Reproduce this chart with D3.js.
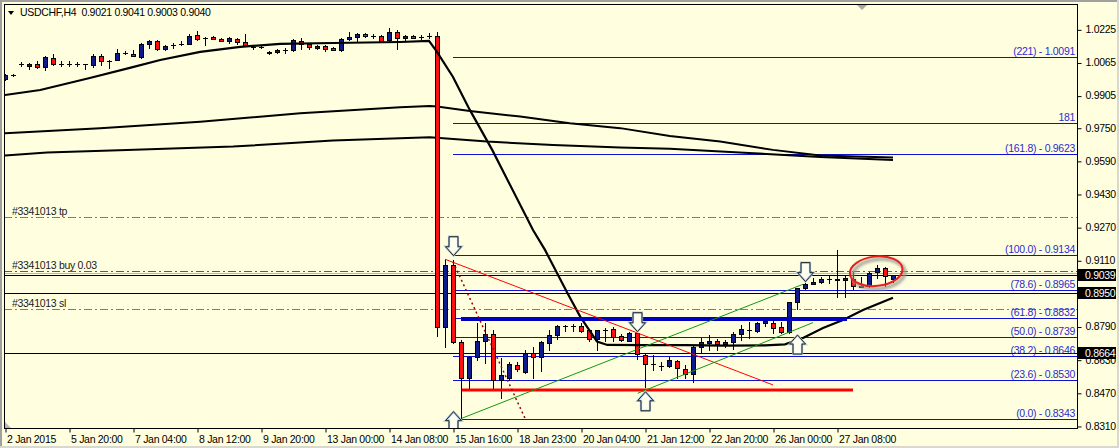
<!DOCTYPE html>
<html><head><meta charset="utf-8">
<script src="https://cdn.jsdelivr.net/npm/d3@7"></script>
<style>
html,body{margin:0;padding:0;background:#ffffe0;}
svg{display:block;font-family:"Liberation Sans",Arial,sans-serif;}
</style></head><body>
<svg id="c" width="1119" height="448"></svg>
<script>
// ---------- DATA ----------
const symbol = "USDCHF,H4";
const openP = [0.9983,1.0005,1.0057,1.0049,1.0059,1.0044,1.0088,1.0059,1.0059,1.0057,1.0057,1.0055,1.0098,1.0073,1.0078,1.0112,1.0107,1.0093,1.0156,1.0170,1.0131,1.0151,1.0156,1.0156,1.0199,1.0185,1.0190,1.0180,1.0170,1.0180,1.0165,1.0141,1.0141,1.0112,1.0117,1.0127,1.0127,1.0170,1.0156,1.0136,1.0146,1.0136,1.0126,1.0180,1.0190,1.0204,1.0194,1.0194,1.0175,1.0214,1.0185,1.0194,1.0190,1.0194,
  1.0194,0.8789,0.9087,0.8717,0.8540,0.8642,0.8720,0.8753,0.8532,0.8540,0.8603,0.8572,0.8664,0.8642,0.8712,0.8749,0.8793,0.8793,0.8793,0.8771,0.8729,0.8771,0.8776,0.8745,0.8722,0.8760,0.8652,0.8608,0.8601,0.8601,0.8624,0.8585,0.8560,0.8690,0.8709,0.8720,0.8704,0.8717,0.8753,0.8773,0.8770,0.8806,0.8806,0.8789,0.8765,0.8907,0.8975,0.8997,0.9007,0.9018,0.9021,0.9013,0.9021,0.8983,0.8986,0.9055,0.9071,0.9021];
const highP = [1.0010,1.0010,1.0065,1.0062,1.0073,1.0095,1.0104,1.0070,1.0070,1.0066,1.0060,1.0106,1.0106,1.0075,1.0131,1.0119,1.0127,1.0158,1.0172,1.0172,1.0148,1.0161,1.0170,1.0204,1.0215,1.0190,1.0192,1.0183,1.0190,1.0182,1.0204,1.0151,1.0146,1.0119,1.0131,1.0136,1.0180,1.0185,1.0160,1.0150,1.0150,1.0141,1.0182,1.0214,1.0206,1.0209,1.0204,1.0199,1.0233,1.0224,1.0196,1.0196,1.0199,1.0209,
  1.0211,0.9112,0.9112,0.8725,0.8650,0.8806,0.8806,0.8773,0.8637,0.8620,0.8620,0.8677,0.8690,0.8720,0.8773,0.8798,0.8798,0.8803,0.8809,0.8775,0.8775,0.8781,0.8786,0.8754,0.8765,0.8773,0.8657,0.8653,0.8620,0.8645,0.8629,0.8604,0.8695,0.8733,0.8749,0.8730,0.8725,0.8764,0.8798,0.8814,0.8814,0.8830,0.8817,0.8814,0.8910,0.8976,0.9002,0.9023,0.9028,0.9039,0.9160,0.9034,0.9055,0.9031,0.9055,0.9087,0.9079,0.9041];
const lowP = [0.9980,1.0000,1.0049,1.0032,1.0039,1.0029,1.0054,1.0050,1.0049,1.0049,1.0034,1.0045,1.0052,1.0039,1.0075,1.0105,1.0095,1.0088,1.0136,1.0123,1.0126,1.0136,1.0151,1.0154,1.0175,1.0151,1.0178,1.0168,1.0160,1.0156,1.0144,1.0131,1.0136,1.0107,1.0112,1.0112,1.0122,1.0131,1.0131,1.0131,1.0122,1.0124,1.0122,1.0175,1.0170,1.0190,1.0185,1.0165,1.0165,1.0131,1.0175,1.0183,1.0180,1.0185,
  0.8745,0.8693,0.8710,0.8343,0.8492,0.8629,0.8613,0.8492,0.8447,0.8530,0.8577,0.8567,0.8540,0.8577,0.8677,0.8729,0.8769,0.8769,0.8765,0.8722,0.8677,0.8722,0.8722,0.8722,0.8720,0.8632,0.8500,0.8580,0.8580,0.8596,0.8543,0.8540,0.8521,0.8669,0.8677,0.8677,0.8693,0.8682,0.8725,0.8733,0.8765,0.8793,0.8757,0.8760,0.8757,0.8875,0.8970,0.8994,0.9002,0.9002,0.8931,0.8934,0.8970,0.8983,0.8983,0.9023,0.8986,0.9003];
const closeP = [1.0005,1.0005,1.0057,1.0059,1.0044,1.0093,1.0059,1.0059,1.0059,1.0057,1.0057,1.0098,1.0073,1.0073,1.0112,1.0112,1.0097,1.0156,1.0170,1.0131,1.0146,1.0151,1.0156,1.0194,1.0180,1.0185,1.0180,1.0170,1.0185,1.0165,1.0146,1.0141,1.0141,1.0117,1.0127,1.0127,1.0175,1.0156,1.0141,1.0146,1.0131,1.0126,1.0180,1.0190,1.0204,1.0194,1.0194,1.0170,1.0214,1.0185,1.0194,1.0185,1.0190,1.0194,
  0.8789,0.9087,0.8717,0.8540,0.8642,0.8720,0.8753,0.8532,0.8556,0.8608,0.8584,0.8664,0.8642,0.8715,0.8749,0.8793,0.8793,0.8793,0.8769,0.8729,0.8771,0.8771,0.8741,0.8726,0.8760,0.8657,0.8608,0.8608,0.8601,0.8629,0.8589,0.8560,0.8690,0.8717,0.8720,0.8706,0.8714,0.8753,0.8778,0.8773,0.8806,0.8817,0.8785,0.8765,0.8910,0.8975,0.8996,0.9007,0.9018,0.9018,0.9013,0.9023,0.8986,0.8986,0.9050,0.9071,0.9034,0.9040];

const xTickIdx = [0,8,16,24,32,40,48,56,64,72,80,88,96,104];
const xTickLabels = ["2 Jan 2015","5 Jan 20:00","7 Jan 04:00","8 Jan 12:00","9 Jan 20:00","13 Jan 00:00","14 Jan 08:00","15 Jan 16:00","18 Jan 23:00","20 Jan 04:00","21 Jan 12:00","22 Jan 20:00","26 Jan 00:00","27 Jan 08:00"];
const yTickLabels = ["1.0225","1.0065","0.9905","0.9750","0.9590","0.9430","0.9270","0.9110","0.8950","0.8790","0.8630","0.8470","0.8310"];

// moving averages: bar index / value
const maFastIdx = [0,4.4,10.6,15.6,19.4,24.4,29.4,34.4,41,49.4,53,54,56,58.1,60.9,66,67.5,70.3,71.9,74,75.3,80,85,90,95,97.5,99.75,102.25,104.75,107.25,111];
const maFastVal = [0.9908,0.9932,0.9990,1.0039,1.0077,1.0116,1.0140,1.0155,1.0159,1.0164,1.0169,1.0116,0.9995,0.9836,0.9643,0.9256,0.9160,0.8952,0.8838,0.8717,0.8701,0.8700,0.8700,0.8698,0.8699,0.8704,0.8735,0.8783,0.8822,0.8870,0.8929];
const maMidIdx = [0,11.9,24.4,36.9,49.4,53.1,54,58.1,64.4,70.6,76.9,83.1,89.4,96,101.9,111];
const maMidVal = [0.9723,0.9748,0.9779,0.9820,0.9849,0.9855,0.9852,0.9831,0.9804,0.9772,0.9748,0.9710,0.9683,0.9643,0.9616,0.9606];
const maSlowIdx = [0,5.25,15.25,28.5,41,53.1,60.25,68.5,76.9,83.1,93,101.9,111];
const maSlowVal = [0.9616,0.9630,0.9643,0.9659,0.9688,0.9704,0.9683,0.9667,0.9654,0.9648,0.9628,0.9609,0.9594];

// Fibonacci
const fibStartIdx = 56;
const fibPrices = [0.8343,0.8530,0.8646,0.8739,0.8832,0.8965,0.9134,0.9623,0.9775,1.0091];
const fibLabels = ["(0.0) - 0.8343","(23.6) - 0.8530","(38.2) - 0.8646","(50.0) - 0.8739","(61.8) - 0.8832","(78.6) - 0.8965","(100.0) - 0.9134","(161.8) - 0.9623","181","(221) - 1.0091"];

// horizontal lines with price labels
const hLinePrices = [0.9039,0.8950,0.8664];
const bidLinePrice = 0.9047;

// order lines
const orderNames = ["#3341013 tp","#3341013 buy 0.03","#3341013 sl"];
const orderPrices = [0.9318,0.9058,0.8873];
const orderColors = ["#f0521c","#1a8a1a","#f0521c"];

// trend objects: [idx0, val0, idx1, val1]
const redTrend = [55,0.9115,96,0.8508];
const redDotted = [56,0.9103,65,0.8347];
const greenUpper = [57.1,0.8347,99.75,0.8994];
const greenLower = [79.1,0.8468,101,0.8809];
const thickBlue = [57,0.8826,105.25,0.8826];
const thickRed = [57.1,0.8484,106,0.8484];

// arrows: index, tip price
const downArrowIdx = [56,79,100];
const downArrowVal = [0.9132,0.8765,0.9007];
const upArrowIdx = [56,80,99];
const upArrowVal = [0.8379,0.8475,0.8749];

// highlight ellipse: center idx, center val, radius in bars, radius in price
const ellipseSpec = [108.9,0.9057,3.3,0.0071];

// ---------- DRAW ----------
const svg = d3.select("#c");
const W = 1119, H = 448;
const P = {l:4, t:4, r:1077, b:428};
const x = d3.scaleLinear().domain([0,134]).range([5,1077]);
const y = d3.scaleLinear().domain([0.83001,1.03474]).range([428,4]);
const cy = v => Math.round(y(v)) + 0.5;

svg.append("rect").attr("width",W).attr("height",H).attr("fill","#ffffe0");
svg.append("rect").attr("x",0).attr("y",0).attr("width",W).attr("height",2).attr("fill","#a0a0a0");
svg.append("rect").attr("x",0).attr("y",0).attr("width",2).attr("height",H).attr("fill","#a0a0a0");
svg.append("rect").attr("x",W-2).attr("y",0).attr("width",2).attr("height",H).attr("fill","#d8d8d0");
svg.append("rect").attr("x",0).attr("y",H-2).attr("width",W).attr("height",2).attr("fill","#d8d8d0");

const defs = svg.append("defs");
defs.append("clipPath").attr("id","clip").append("rect")
  .attr("x",P.l+1).attr("y",P.t+1).attr("width",P.r-P.l-1).attr("height",P.b-P.t-1);
const blur = defs.append("filter").attr("id","blur");
blur.append("feGaussianBlur").attr("stdDeviation",1.6);

const g = svg.append("g").attr("clip-path","url(#clip)");

// fib lines
fibPrices.forEach(p => {
  g.append("line").attr("x1",x(fibStartIdx)).attr("x2",P.r).attr("y1",cy(p)).attr("y2",cy(p))
    .attr("stroke","#1010d0").attr("stroke-width",1);
});
// horizontal black lines
g.append("line").attr("x1",P.l).attr("x2",P.r).attr("y1",cy(bidLinePrice)).attr("y2",cy(bidLinePrice))
  .attr("stroke","#b8b8b8").attr("stroke-width",1);
hLinePrices.forEach(p => {
  g.append("line").attr("x1",P.l).attr("x2",P.r).attr("y1",cy(p)).attr("y2",cy(p))
    .attr("stroke","#000").attr("stroke-width",1);
});
// order lines
orderPrices.forEach((p,i) => {
  g.append("line").attr("x1",P.l).attr("x2",P.r).attr("y1",cy(p)).attr("y2",cy(p))
    .attr("stroke",orderColors[i]).attr("stroke-width",1).attr("stroke-dasharray","8,3,2,3");
});

// moving averages
const lineGen = d3.line().x(d=>x(d[0])).y(d=>y(d[1]));
[[maMidIdx,maMidVal],[maSlowIdx,maSlowVal]].forEach(([ix,vv]) => {
  g.append("path").attr("d",lineGen(ix.map((d,i)=>[d,vv[i]])))
    .attr("fill","none").attr("stroke","#000").attr("stroke-width",2);
});

// candles
const cg = g.append("g");
openP.forEach((o,i) => {
  const c = closeP[i], h = highP[i], l = lowP[i];
  const xc = x(i);
  cg.append("line").attr("x1",xc+0.5).attr("x2",xc+0.5)
    .attr("y1",Math.round(y(h))).attr("y2",Math.round(y(l))+1)
    .attr("stroke","#000").attr("stroke-width",1);
  const yo = Math.round(y(o)), yc = Math.round(y(c));
  const t = Math.min(yo,yc), b = Math.max(yo,yc);
  if (b - t < 1) {
    cg.append("line").attr("x1",xc-2).attr("x2",xc+3).attr("y1",t+0.5).attr("y2",t+0.5)
      .attr("stroke","#000").attr("stroke-width",1);
  } else {
    cg.append("rect").attr("x",xc-1.5).attr("y",t+0.5).attr("width",4).attr("height",b-t)
      .attr("fill", c > o ? "#0c1a8c" : "#ff1010").attr("stroke","#000").attr("stroke-width",1);
  }
});

// fast MA over candles
g.append("path").attr("d",lineGen(maFastIdx.map((d,i)=>[d,maFastVal[i]])))
  .attr("fill","none").attr("stroke","#000").attr("stroke-width",2.2);

// thick horizontal objects
g.append("line").attr("x1",x(thickBlue[0])).attr("x2",x(thickBlue[2]))
  .attr("y1",y(thickBlue[1])).attr("y2",y(thickBlue[3])).attr("stroke","#0000c0").attr("stroke-width",4);
g.append("line").attr("x1",x(thickRed[0])).attr("x2",x(thickRed[2]))
  .attr("y1",y(thickRed[1])).attr("y2",y(thickRed[3])).attr("stroke","#ff0000").attr("stroke-width",3);

// trend lines
const seg = (s, color, w, dash) => {
  const ln = g.append("line").attr("x1",x(s[0])).attr("y1",y(s[1])).attr("x2",x(s[2])).attr("y2",y(s[3]))
    .attr("stroke",color).attr("stroke-width",w);
  if (dash) ln.attr("stroke-dasharray",dash);
};
seg(redTrend,"#ff0000",1);
seg(redDotted,"#9a0000",1.5,"2,3");
seg(greenUpper,"#119911",1);
seg(greenLower,"#119911",1);

// arrows
function arrow(idx, val, dir) {
  const cx = x(idx) + 0.5, ty = y(val);
  const s = dir; // +1 down-pointing (tip at bottom), -1 up-pointing
  const pts = [
    [cx-4.5, ty - s*19], [cx+4.5, ty - s*19], [cx+4.5, ty - s*9], [cx+8, ty - s*9],
    [cx, ty], [cx-8, ty - s*9], [cx-4.5, ty - s*9]
  ];
  const d = "M"+pts.map(p=>p.join(",")).join("L")+"Z";
  g.append("path").attr("d",d)
    .attr("fill","#fffff0").attr("stroke","#a9cbe6").attr("stroke-width",2.2).attr("stroke-linejoin","miter");
  g.append("path").attr("d",d)
    .attr("fill","none").attr("stroke","#262626").attr("stroke-width",1);
}
downArrowIdx.forEach((d,i)=>arrow(d,downArrowVal[i],1));
upArrowIdx.forEach((d,i)=>arrow(d,upArrowVal[i],-1));

// ellipse
{
  const ecx = x(ellipseSpec[0]), ecy = y(ellipseSpec[1]);
  const rx = x(ellipseSpec[2]) - x(0), ry = y(0.9) - y(0.9 + ellipseSpec[3]);
  g.append("ellipse").attr("cx",ecx+2).attr("cy",ecy+3).attr("rx",rx).attr("ry",ry)
    .attr("fill","none").attr("stroke","#9a9a90").attr("stroke-width",3).attr("filter","url(#blur)")
    .attr("transform",`rotate(-6 ${ecx} ${ecy})`);
  g.append("ellipse").attr("cx",ecx).attr("cy",ecy).attr("rx",rx).attr("ry",ry)
    .attr("fill","none").attr("stroke","#e8201c").attr("stroke-width",2)
    .attr("transform",`rotate(-6 ${ecx} ${ecy})`);
}

// text labels inside plot
const txt = svg.append("g").attr("font-size","10.5px").attr("letter-spacing","-0.3px");
fibPrices.forEach((p,i) => {
  txt.append("text").attr("x",P.r-2).attr("y",cy(p)-2.5).attr("text-anchor","end")
    .attr("fill","#2b2bd0").text(fibLabels[i]);
});
orderPrices.forEach((p,i) => {
  txt.append("text").attr("x",12).attr("y",cy(p)-2.5).attr("fill","#202020").text(orderNames[i]);
});
// header
const last = openP.length - 1;
svg.append("path").attr("d","M8,11L14,11L11,15Z").attr("fill","#000");
svg.append("text").attr("x",20).attr("y",16).attr("font-size","10.5px").attr("letter-spacing","-0.3px")
  .attr("fill","#000").attr("xml:space","preserve")
  .text(`${symbol}  ${openP[last].toFixed(4)} ${highP[last].toFixed(4)} ${lowP[last].toFixed(4)} ${closeP[last].toFixed(4)}`);

// small gray markers
svg.append("path").attr("d",`M${x(106.5)},5L${x(106.5)+10},5L${x(106.5)+5},10Z`).attr("fill","#a8a8a8");
svg.append("path").attr("d","M5,422L5,428L11,428Z").attr("fill","#b8b8b8");

// border
svg.append("rect").attr("x",P.l+0.5).attr("y",P.t+0.5).attr("width",P.r-P.l).attr("height",P.b-P.t)
  .attr("fill","none").attr("stroke","#000");

// axes
const yAxis = d3.axisRight(y).tickValues(yTickLabels.map(Number)).tickSize(4).tickSizeOuter(0)
  .tickPadding(4).tickFormat((d,i)=>yTickLabels[i]);
const ya = svg.append("g").attr("transform",`translate(${P.r+0.5},0)`).call(yAxis);
ya.select(".domain").remove();
ya.selectAll("line").attr("stroke","#000").attr("transform","translate(0,0.5)");
ya.selectAll("text").attr("font-size","10.5px").attr("letter-spacing","-0.3px").attr("fill","#000")
  .attr("font-family","Liberation Sans, Arial, sans-serif");

const xAxis = d3.axisBottom(x).tickValues(xTickIdx).tickSize(4).tickSizeOuter(0).tickPadding(3)
  .tickFormat((d,i)=>xTickLabels[i]);
const xa = svg.append("g").attr("transform",`translate(0.5,${P.b+0.5})`).call(xAxis);
xa.select(".domain").remove();
xa.selectAll("line").attr("stroke","#000");
xa.selectAll("text").attr("text-anchor","start").attr("dx","1").attr("font-size","10.5px")
  .attr("letter-spacing","-0.3px").attr("fill","#000").attr("font-family","Liberation Sans, Arial, sans-serif");

// price label boxes (drawn over the axis, as in the terminal)
hLinePrices.forEach(p => {
  const yy = Math.round(y(p));
  svg.append("rect").attr("x",P.r+1).attr("y",yy-6).attr("width",38).attr("height",12).attr("fill","#000");
  svg.append("text").attr("x",P.r+8).attr("y",yy+4).attr("font-size","10.5px").attr("letter-spacing","-0.3px")
    .attr("fill","#fff").text(p.toFixed(4));
});
</script>
</body></html>
